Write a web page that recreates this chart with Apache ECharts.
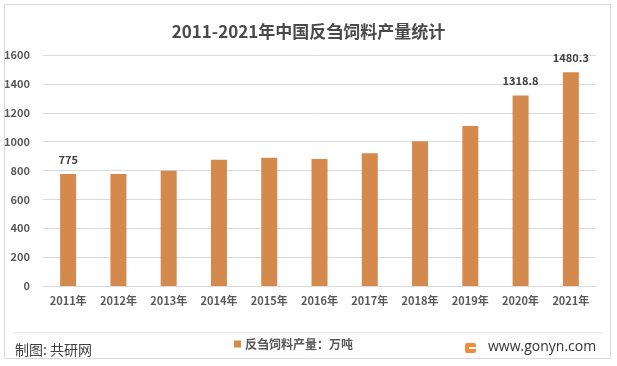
<!DOCTYPE html>
<html>
<head>
<meta charset="utf-8">
<script src="https://cdn.jsdelivr.net/npm/echarts@6/dist/echarts.min.js"></script>
<style>
html,body{margin:0;padding:0;background:#fff;}
#chart{width:617px;height:366px;}
</style>
</head>
<body>
<div id="chart"></div>
<script>
var titleText = '2011-2021年中国反刍饲料产量统计';
var seriesName = '反刍饲料产量：万吨';
var categories = ['2011年','2012年','2013年','2014年','2015年','2016年','2017年','2018年','2019年','2020年','2021年'];
var values = [775, 776, 798, 875, 889, 880, 920, 1003, 1108, 1318.8, 1480.3];
var labeledIndices = [0, 9, 10];
var yTicks = {min: 0, max: 1600, interval: 200};

var FONT = '"Noto Sans CJK SC", "Noto Sans", sans-serif';
var chart = echarts.init(document.getElementById('chart'));
chart.setOption({
  animation: false,
  backgroundColor: '#ffffff',
  title: {
    text: titleText,
    left: 'center',
    top: 18,
    textStyle: {fontFamily: FONT, fontSize: 17, fontWeight: 'bold', color: '#4a4a4a'}
  },
  legend: {
    data: [seriesName],
    left: 229,
    top: 333,
    icon: 'rect',
    itemWidth: 7,
    itemHeight: 7,
    itemGap: 4,
    textStyle: {fontFamily: FONT, fontSize: 12, fontWeight: 'bold', color: '#595959', padding: [0,0,0,-1]}
  },
  grid: {left: 43, right: 21, top: 55, bottom: 80, containLabel: false},
  xAxis: {
    type: 'category',
    data: categories,
    axisLine: {lineStyle: {color: '#d9d9d9'}},
    axisTick: {show: false},
    axisLabel: {fontFamily: FONT, fontSize: 11, fontWeight: 'bold', color: '#595959', margin: 9}
  },
  yAxis: {
    type: 'value',
    min: yTicks.min, max: yTicks.max, interval: yTicks.interval,
    axisLine: {show: false},
    axisTick: {show: false},
    splitLine: {lineStyle: {color: '#d9d9d9'}},
    axisLabel: {fontFamily: FONT, fontSize: 11, fontWeight: 'bold', color: '#595959', margin: 13,
      formatter: function(v){ return String(v); }}
  },
  series: [{
    name: seriesName,
    type: 'bar',
    barWidth: 16,
    itemStyle: {color: '#d48a4d'},
    data: values.map(function(v, i){
      return {
        value: v,
        label: {show: labeledIndices.indexOf(i) >= 0, position: 'top', distance: 9,
          fontFamily: FONT, fontSize: 11, fontWeight: 'bold', color: '#404040'}
      };
    })
  }],
  graphic: [
    {type: 'rect', shape: {x: 4.5, y: 4.5, width: 606, height: 354}, style: {fill: null, stroke: '#d9d9d9', lineWidth: 1}, silent: true, z: -1},
    {type: 'line', shape: {x1: 13, y1: 332.5, x2: 603, y2: 332.5}, style: {stroke: '#e6e6e6', lineWidth: 1}},
    {type: 'text', left: 15, top: 343, style: {text: '制图: 共研网', fontFamily: FONT, fontSize: 14, fill: '#404040'}},
    {type: 'rect', shape: {x: 465, y: 343, width: 11, height: 10, r: 2}, style: {fill: '#f28b3c'}},
    {type: 'rect', shape: {x: 469, y: 347, width: 7, height: 2}, style: {fill: '#ffffff'}},
    {type: 'text', left: 488, top: 340, style: {text: 'www.gonyn.com', fontFamily: '"Open Sans", "Noto Sans", sans-serif', fontSize: 14, fill: '#333333'}}
  ]
});
</script>
</body>
</html>
